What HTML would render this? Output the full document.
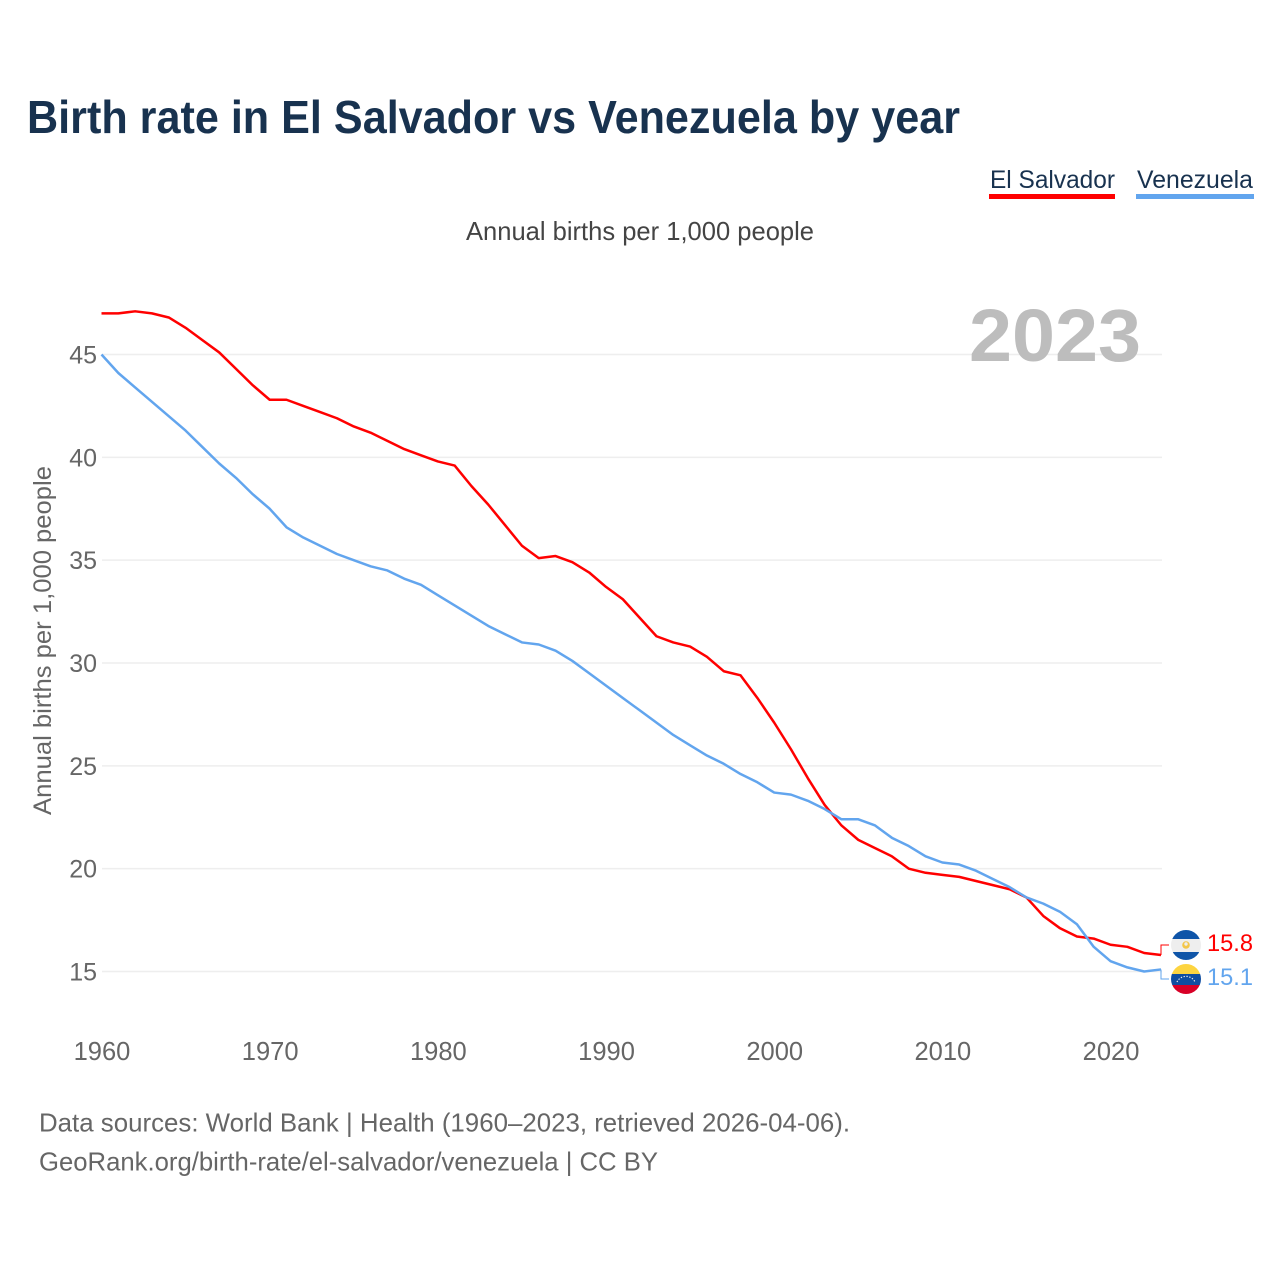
<!DOCTYPE html>
<html lang="en">
<head>
<meta charset="utf-8">
<title>Birth rate in El Salvador vs Venezuela by year</title>
<style>
html,body{margin:0;padding:0;background:#fff;width:1280px;height:1280px;overflow:hidden}
svg{display:block}
text{font-family:"Liberation Sans",sans-serif}
</style>
</head>
<body>
<svg id="chart" xmlns="http://www.w3.org/2000/svg" width="1280" height="1280" viewBox="0 0 1280 1280">
  <rect x="0" y="0" width="1280" height="1280" fill="#ffffff"/>
  <text x="27" y="133" font-size="46" font-weight="700" fill="#18324f" textLength="933" lengthAdjust="spacingAndGlyphs">Birth rate in El Salvador vs Venezuela by year</text>

  <g>
    <text x="990" y="188" font-size="25" fill="#18324f" textLength="125" lengthAdjust="spacingAndGlyphs">El Salvador</text>
    <rect x="989" y="194" width="126" height="5" fill="#ff0000"/>
  </g>
  <g>
    <text x="1137" y="188" font-size="25" fill="#18324f" textLength="116" lengthAdjust="spacingAndGlyphs">Venezuela</text>
    <rect x="1136" y="194" width="118" height="5" fill="#62a5ee"/>
  </g>

  <text x="466" y="240" font-size="26" fill="#444444" textLength="348" lengthAdjust="spacingAndGlyphs">Annual births per 1,000 people</text>
  <text transform="translate(51,815) rotate(-90)" x="0" y="0" font-size="25" fill="#666666" textLength="349" lengthAdjust="spacingAndGlyphs">Annual births per 1,000 people</text>

  <g id="grid"></g>
  <g id="y-ticks"></g>
  <g id="x-ticks"></g>

  <text x="969" y="361" font-size="74" font-weight="700" fill="#bdbdbd" textLength="172" lengthAdjust="spacingAndGlyphs">2023</text>

  <g id="series"></g>

  <g>
    <clipPath id="clip-sv"><circle cx="1186" cy="945" r="15"/></clipPath>
    <g clip-path="url(#clip-sv)">
      <rect x="1171" y="930" width="30" height="9" fill="#0f55a8"/>
      <rect x="1171" y="939" width="30" height="13" fill="#eeeeee"/>
      <rect x="1171" y="952" width="30" height="9" fill="#0f55a8"/>
      <circle cx="1186" cy="945" r="3.8" fill="#f3c649"/>
      <circle cx="1186" cy="944" r="1.7" fill="#eeeeee"/>
    </g>
  </g>
  <g>
    <clipPath id="clip-ve"><circle cx="1186" cy="979" r="15"/></clipPath>
    <g clip-path="url(#clip-ve)">
      <rect x="1171" y="964" width="30" height="10" fill="#fdd440"/>
      <rect x="1171" y="974" width="30" height="11" fill="#0f4ea1"/>
      <rect x="1171" y="985" width="30" height="10" fill="#d80027"/>
      <path d="M1177 982 A10 10 0 0 1 1195 982" fill="none" stroke="#eeeeee" stroke-width="1.2" stroke-dasharray="1.3 1.6"/>
    </g>
  </g>

  <text x="1207" y="951" font-size="24" fill="#ff0000" textLength="46" lengthAdjust="spacingAndGlyphs">15.8</text>
  <text x="1207" y="985" font-size="24" fill="#62a5ee" textLength="46" lengthAdjust="spacingAndGlyphs">15.1</text>

  <text x="39" y="1131.5" font-size="26" fill="#666666" textLength="811" lengthAdjust="spacingAndGlyphs">Data sources: World Bank | Health (1960–2023, retrieved 2026-04-06).</text>
  <text x="39" y="1170.5" font-size="26" fill="#666666" textLength="619" lengthAdjust="spacingAndGlyphs">GeoRank.org/birth-rate/el-salvador/venezuela | CC BY</text>
</svg>
<script>
const years = [1960,1961,1962,1963,1964,1965,1966,1967,1968,1969,1970,1971,1972,1973,1974,1975,1976,1977,1978,1979,1980,1981,1982,1983,1984,1985,1986,1987,1988,1989,1990,1991,1992,1993,1994,1995,1996,1997,1998,1999,2000,2001,2002,2003,2004,2005,2006,2007,2008,2009,2010,2011,2012,2013,2014,2015,2016,2017,2018,2019,2020,2021,2022,2023];
const elSalvador = [47.0,47.0,47.1,47.0,46.8,46.3,45.7,45.1,44.3,43.5,42.8,42.8,42.5,42.2,41.9,41.5,41.2,40.8,40.4,40.1,39.8,39.6,38.6,37.7,36.7,35.7,35.1,35.2,34.9,34.4,33.7,33.1,32.2,31.3,31.0,30.8,30.3,29.6,29.4,28.3,27.1,25.8,24.4,23.1,22.1,21.4,21.0,20.6,20.0,19.8,19.7,19.6,19.4,19.2,19.0,18.6,17.7,17.1,16.7,16.6,16.3,16.2,15.9,15.8];
const venezuela = [45.0,44.1,43.4,42.7,42.0,41.3,40.5,39.7,39.0,38.2,37.5,36.6,36.1,35.7,35.3,35.0,34.7,34.5,34.1,33.8,33.3,32.8,32.3,31.8,31.4,31.0,30.9,30.6,30.1,29.5,28.9,28.3,27.7,27.1,26.5,26.0,25.5,25.1,24.6,24.2,23.7,23.6,23.3,22.9,22.4,22.4,22.1,21.5,21.1,20.6,20.3,20.2,19.9,19.5,19.1,18.6,18.3,17.9,17.3,16.2,15.5,15.2,15.0,15.1];
const yTickValues = [15,20,25,30,35,40,45];
const xTickValues = [1960,1970,1980,1990,2000,2010,2020];

const NS = 'http://www.w3.org/2000/svg';
function xScale(year) { return 101.5 + (year - 1960) * (1161 - 101.5) / 63; }
function yScale(value) { return 971.5 - (value - 15) * (971.5 - 354.5) / 30; }
function make(tag, attrs, parent) {
  const el = document.createElementNS(NS, tag);
  for (const k in attrs) el.setAttribute(k, attrs[k]);
  parent.appendChild(el);
  return el;
}

const gridGroup = document.getElementById('grid');
const yGroup = document.getElementById('y-ticks');
yTickValues.forEach(function (v) {
  const line = make('line', {x1: 102, x2: 1162, y1: yScale(v), y2: yScale(v), stroke: '#eeeeee', 'stroke-width': 1.5}, gridGroup);
  
  
  const label = make('text', {x: 97, y: yScale(v) + 9, 'text-anchor': 'end', 'font-size': 25, fill: '#666666'}, yGroup);
  
  
  label.textContent = v;
});

const xGroup = document.getElementById('x-ticks');
xTickValues.forEach(function (y) {
  const label = make('text', {x: xScale(y) + 0.5, y: 1060, 'text-anchor': 'middle', 'font-size': 25.5, fill: '#666666'}, xGroup);
  
  
  label.textContent = y;
});

const seriesGroup = document.getElementById('series');
function drawSeries(values, color, labelY, seriesName, connectorName) {
  const pts = values.map(function (v, i) { return xScale(years[i]).toFixed(2) + ',' + yScale(v).toFixed(2); }).join(' ');
  const line = make('polyline', {points: pts, fill: 'none', stroke: color, 'stroke-width': 2.5, 'stroke-linejoin': 'round'}, seriesGroup);
  
  
  const lastX = xScale(years[years.length - 1]);
  const lastY = yScale(values[values.length - 1]);
  const conn = make('polyline', {points: lastX + ',' + lastY + ' ' + lastX + ',' + labelY + ' ' + (lastX + 8) + ',' + labelY, fill: 'none', stroke: color, 'stroke-width': 1}, seriesGroup);
  
  
}
drawSeries(elSalvador, '#ff0000', 945, 'line-el-salvador', 'connector-el-salvador');
drawSeries(venezuela, '#62a5ee', 979, 'line-venezuela', 'connector-venezuela');
</script>
</body>
</html>
